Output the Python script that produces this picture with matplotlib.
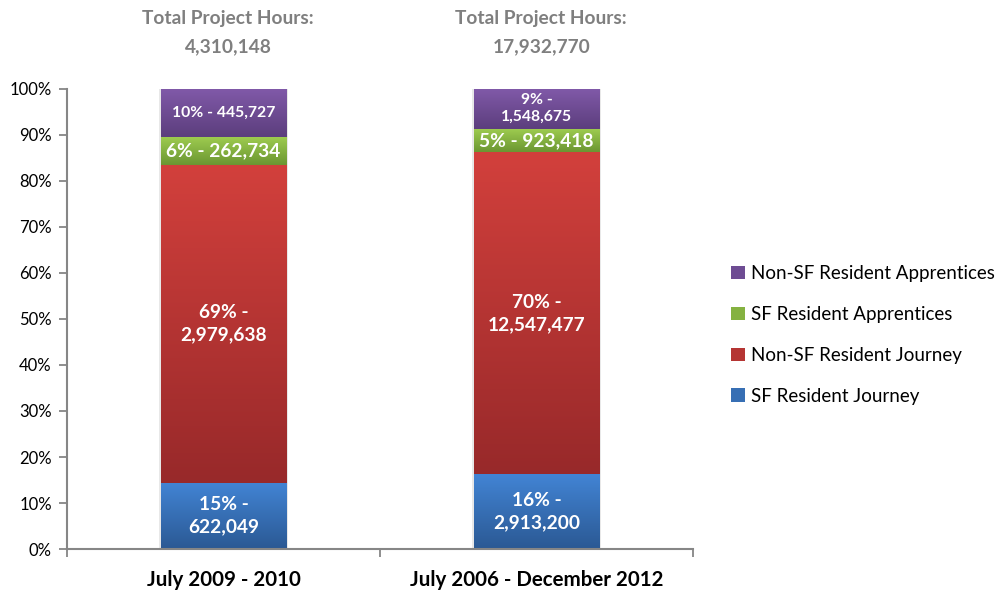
import numpy as np
import matplotlib
matplotlib.use("Agg")
import matplotlib.pyplot as plt
from matplotlib.colors import to_rgb
from matplotlib.patches import Patch, Rectangle

plt.rcParams["font.family"] = ["Lato", "DejaVu Sans"]

CATEGORIES = ["July 2009 - 2010", "July 2006 - December 2012"]
TOTALS = [4310148, 17932770]
SERIES = ["SF Resident Journey", "Non-SF Resident Journey",
          "SF Resident Apprentices", "Non-SF Resident Apprentices"]
# hours per series, one entry per category
SF_JOURNEY = [622049, 2913200]
NONSF_JOURNEY = [2979638, 12547477]
SF_APPR = [262734, 923418]
NONSF_APPR = [445727, 1548675]
# percentages as printed on the labels
PCT_LABELS = [[15, 16], [69, 70], [6, 5], [10, 9]]
WRAP = [[True, True], [True, True], [False, False], [False, True]]

# (top colour, bottom colour) of each segment gradient
GRADIENTS = [("#4284d4", "#2b5994"),
             ("#d2403c", "#98292a"),
             ("#9fcd50", "#6b9632"),
             ("#8059a8", "#5c3e7d")]

values = np.array([SF_JOURNEY, NONSF_JOURNEY, SF_APPR, NONSF_APPR], dtype=float)
shares = values / values.sum(axis=0)

fig = plt.figure(figsize=(9.96, 5.93), dpi=100)
ax = fig.add_axes([67 / 996, 1 - 549 / 593, 626 / 996, 460 / 593])

width = 0.40
x = np.arange(len(CATEGORIES))


def gradient_bar(ax, xc, bottom, height, c_top, c_bot):
    t = np.linspace(0, 1, 64)[:, None]
    top, bot = np.array(to_rgb(c_top)), np.array(to_rgb(c_bot))
    img = (top[None, None, :] * (1 - t[..., None]) + bot[None, None, :] * t[..., None])
    ax.imshow(img, extent=[xc - width / 2, xc + width / 2, bottom, bottom + height],
              aspect="auto", interpolation="bicubic", zorder=2)


for ci, xc in enumerate(x):
    # faint shadow around the stacked bar
    ax.add_patch(Rectangle((xc - width / 2 - 0.006, -0.003), width + 0.012, 1.006,
                           facecolor="#d9d9d9", edgecolor="none", alpha=0.6, zorder=1))
    bottom = 0.0
    for si in range(len(SERIES)):
        h = shares[si, ci]
        gradient_bar(ax, xc, bottom, h, *GRADIENTS[si])
        sep = "\n" if WRAP[si][ci] else " "
        label = f"{PCT_LABELS[si][ci]}% -{sep}{int(values[si, ci]):,}"
        if si == 3:
            fs, ls = 11.3, 1.25
        else:
            fs, ls = 13.8, 1.4
        ax.text(xc, bottom + h / 2, label, ha="center", va="center",
                color="white", fontsize=fs, fontweight="bold",
                linespacing=ls, zorder=3)
        bottom += h

ax.set_xlim(-0.5, 1.5)
ax.set_ylim(0, 1)
ax.set_yticks(np.arange(0, 1.01, 0.1))
ax.set_yticklabels([f"{int(round(v * 100))}%" for v in np.arange(0, 1.01, 0.1)],
                   fontsize=12)
ax.set_xticks(x)
ax.set_xticklabels(CATEGORIES, fontsize=14.8, fontweight="bold")
ax.set_xticks([-0.5, 0.5, 1.5], minor=True)
ax.tick_params(axis="x", which="major", length=0, pad=15)
ax.tick_params(axis="x", which="minor", length=6, direction="out",
               color="#868686", width=1.3)
ax.tick_params(axis="y", length=6, color="#868686", width=1.3, pad=5)
for s in ["top", "right"]:
    ax.spines[s].set_visible(False)
for s in ["left", "bottom"]:
    ax.spines[s].set_color("#868686")
    ax.spines[s].set_linewidth(1.5)

# totals above each bar
tr = ax.get_xaxis_transform()
for ci, xc in enumerate(x):
    ax.text(xc + 0.015, (549 - 19) / 460, "Total Project Hours:",
            ha="center", va="center", color="#7f7f7f", fontsize=13.8,
            fontweight="bold", transform=tr, clip_on=False)
    ax.text(xc + 0.015, (549 - 47) / 460, f"{TOTALS[ci]:,}",
            ha="center", va="center", color="#7f7f7f", fontsize=13.8,
            fontweight="bold", transform=tr, clip_on=False)

handles = [Patch(facecolor=tuple((np.array(to_rgb(GRADIENTS[i][0]))
                                  + np.array(to_rgb(GRADIENTS[i][1]))) / 2),
                 edgecolor="none", label=SERIES[i])
           for i in reversed(range(len(SERIES)))]
fig.legend(handles=handles, loc="center left",
           bbox_to_anchor=(731 / 996, 1 - 335 / 593), frameon=False,
           fontsize=13.5, handlelength=0.72, handleheight=0.72,
           handletextpad=0.35, labelspacing=1.27, borderpad=0, borderaxespad=0)

fig.savefig("out.png", dpi=100)
